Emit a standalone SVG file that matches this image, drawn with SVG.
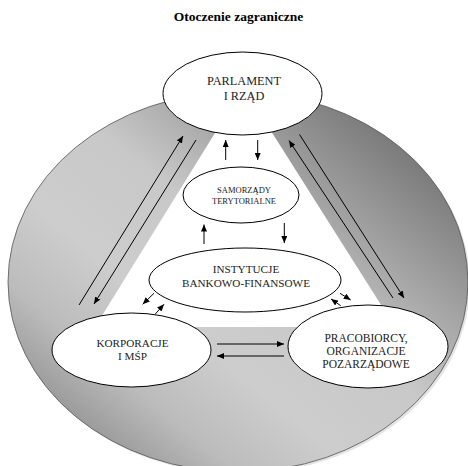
<svg xmlns="http://www.w3.org/2000/svg" width="468" height="466" viewBox="0 0 468 466">
<defs>
<linearGradient id="bg" x1="1" y1="0" x2="0" y2="1">
<stop offset="0" stop-color="#5a5a5a"/>
<stop offset="0.15" stop-color="#7c7c7c"/>
<stop offset="0.45" stop-color="#c8c8c8"/>
<stop offset="0.62" stop-color="#cdcdcd"/>
<stop offset="0.75" stop-color="#bcbcbc"/>
<stop offset="1" stop-color="#6e6e6e"/>
</linearGradient>
<marker id="ah" markerUnits="userSpaceOnUse" markerWidth="8" markerHeight="6" refX="7" refY="3" orient="auto">
<path d="M0,0 L7,3 L0,6 z" fill="#000"/>
</marker>
</defs>
<style>
.node ellipse{fill:#fff;stroke:#000;stroke-width:1}
.node text{font-family:"Liberation Serif","Times New Roman",serif;fill:#222;text-anchor:middle}
.c line{stroke:#000;stroke-width:1;marker-end:url(#ah)}
</style>
<rect width="468" height="466" fill="#fff"/>
<text x="238.5" y="21" font-family="'Liberation Serif','Times New Roman',serif" font-weight="bold" font-size="13.5" text-anchor="middle" fill="#000">Otoczenie zagraniczne</text>
<g id="background">
<ellipse cx="240" cy="284" rx="230" ry="190" fill="#e4e4e4"/>
<ellipse cx="238" cy="282" rx="230" ry="190" fill="url(#bg)" stroke="#555" stroke-width="0.8"/>
<polygon points="223,120 264,120 395,327 95,327" fill="#fff"/>
</g>
<g id="parlament" class="node">
<ellipse cx="242.5" cy="93.5" rx="79.5" ry="41.5"/>
<text x="244" y="85" font-size="12.3">PARLAMENT</text>
<text x="244" y="100" font-size="12.3">I RZĄD</text>
</g>
<g id="samorzady" class="node">
<ellipse cx="241" cy="195" rx="58" ry="28"/>
<text x="244" y="193" font-size="8.5">SAMORZĄDY</text>
<text x="244" y="204" font-size="8.5">TERYTORIALNE</text>
</g>
<g id="instytucje" class="node">
<ellipse cx="245" cy="280" rx="96" ry="32"/>
<text x="246" y="273" font-size="11.2">INSTYTUCJE</text>
<text x="246" y="287" font-size="11.2">BANKOWO-FINANSOWE</text>
</g>
<g id="korporacje" class="node">
<ellipse cx="131.5" cy="350" rx="79.5" ry="37"/>
<text x="132.5" y="347" font-size="11.2">KORPORACJE</text>
<text x="132.5" y="360" font-size="11.2">I MŚP</text>
</g>
<g id="pracobiorcy" class="node">
<ellipse cx="368" cy="346.5" rx="80" ry="41.5"/>
<text x="366" y="342" font-size="11.5">PRACOBIORCY,</text>
<text x="366" y="355" font-size="11.5">ORGANIZACJE</text>
<text x="366" y="367.5" font-size="11.5">POZARZĄDOWE</text>
</g>
<g id="connectors" class="c">
<line x1="79" y1="305" x2="183" y2="136"/>
<line x1="196" y1="140" x2="94" y2="304"/>
<line x1="393" y1="298" x2="289" y2="140.5"/>
<line x1="299.5" y1="134.5" x2="404" y2="298"/>
<line x1="225.7" y1="160" x2="225.7" y2="140"/>
<line x1="257.7" y1="140" x2="257.7" y2="160"/>
<line x1="204" y1="244" x2="204" y2="224.5"/>
<line x1="284.3" y1="223" x2="284.3" y2="243"/>
<line x1="154" y1="293.3" x2="142.7" y2="304.3"/>
<line x1="155" y1="314.3" x2="164" y2="304.3"/>
<line x1="340" y1="293.3" x2="350.7" y2="300"/>
<line x1="340.7" y1="305.7" x2="331" y2="299"/>
<line x1="217" y1="344" x2="284" y2="344"/>
<line x1="284" y1="356" x2="217" y2="356"/>
</g>
</svg>
